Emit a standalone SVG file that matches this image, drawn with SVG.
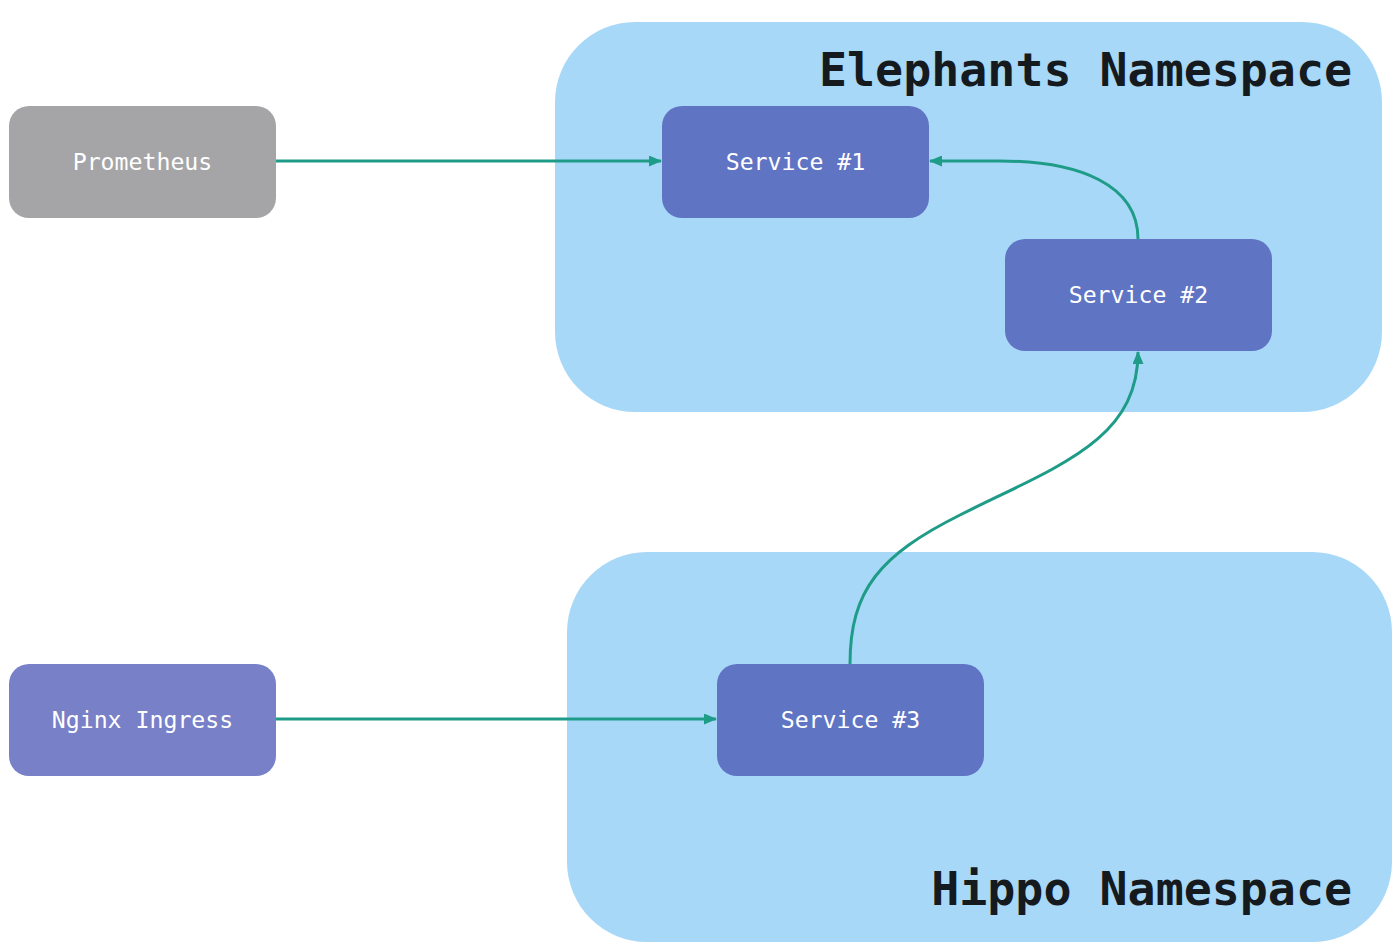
<svg xmlns="http://www.w3.org/2000/svg" width="1400" height="951" viewBox="0 0 1400 951">
<style>
.ns{fill:#a8d8f8}
.title{font-family:"DejaVu Sans Mono","Liberation Mono",monospace;font-weight:bold;font-size:46.6px;fill:#141a1e}
.lbl{font-family:"DejaVu Sans Mono","Liberation Mono",monospace;font-size:23.2px;fill:#ffffff;text-anchor:middle;dominant-baseline:central}
.svc{fill:#6074c4}
.conn{fill:none;stroke:#1f9c88;stroke-width:3}
</style>
<defs>
<marker id="arr" viewBox="0 0 13 11" refX="12" refY="5.5" markerWidth="13" markerHeight="11" markerUnits="userSpaceOnUse" orient="auto">
<path d="M0,0 L13,5.5 L0,11 Z" fill="#1f9c88"/>
</marker>
</defs>
<rect width="1400" height="951" fill="#ffffff"/>
<g id="elephants-ns">
<rect class="ns" x="555" y="22" width="827" height="390" rx="80"/>
<text class="title" x="1352" y="86" text-anchor="end">Elephants Namespace</text>
</g>
<g id="hippo-ns">
<rect class="ns" x="567" y="552" width="825" height="390" rx="80"/>
<text class="title" x="1352" y="905" text-anchor="end">Hippo Namespace</text>
</g>
<g id="connectors">
<path class="conn" d="M276,161 L661,161" marker-end="url(#arr)"/>
<path class="conn" d="M1138,239 C1138,185 1080,161 1000,161 L930,161" marker-end="url(#arr)"/>
<path class="conn" d="M850,664 C850,590 880,555 960,515 C1060,465 1138,440 1138,352" marker-end="url(#arr)"/>
<path class="conn" d="M276,719 L716,719" marker-end="url(#arr)"/>
</g>
<g id="prometheus">
<rect x="9" y="106" width="267" height="112" rx="20" fill="#a5a5a8"/>
<text class="lbl" x="142.5" y="161">Prometheus</text>
</g>
<g id="nginx">
<rect x="9" y="664" width="267" height="112" rx="20" fill="#7880c8"/>
<text class="lbl" x="142.5" y="719">Nginx Ingress</text>
</g>
<g id="service1">
<rect class="svc" x="662" y="106" width="267" height="112" rx="20"/>
<text class="lbl" x="795.5" y="161">Service #1</text>
</g>
<g id="service2">
<rect class="svc" x="1005" y="239" width="267" height="112" rx="20"/>
<text class="lbl" x="1138.5" y="294">Service #2</text>
</g>
<g id="service3">
<rect class="svc" x="717" y="664" width="267" height="112" rx="20"/>
<text class="lbl" x="850.5" y="719">Service #3</text>
</g>
</svg>
